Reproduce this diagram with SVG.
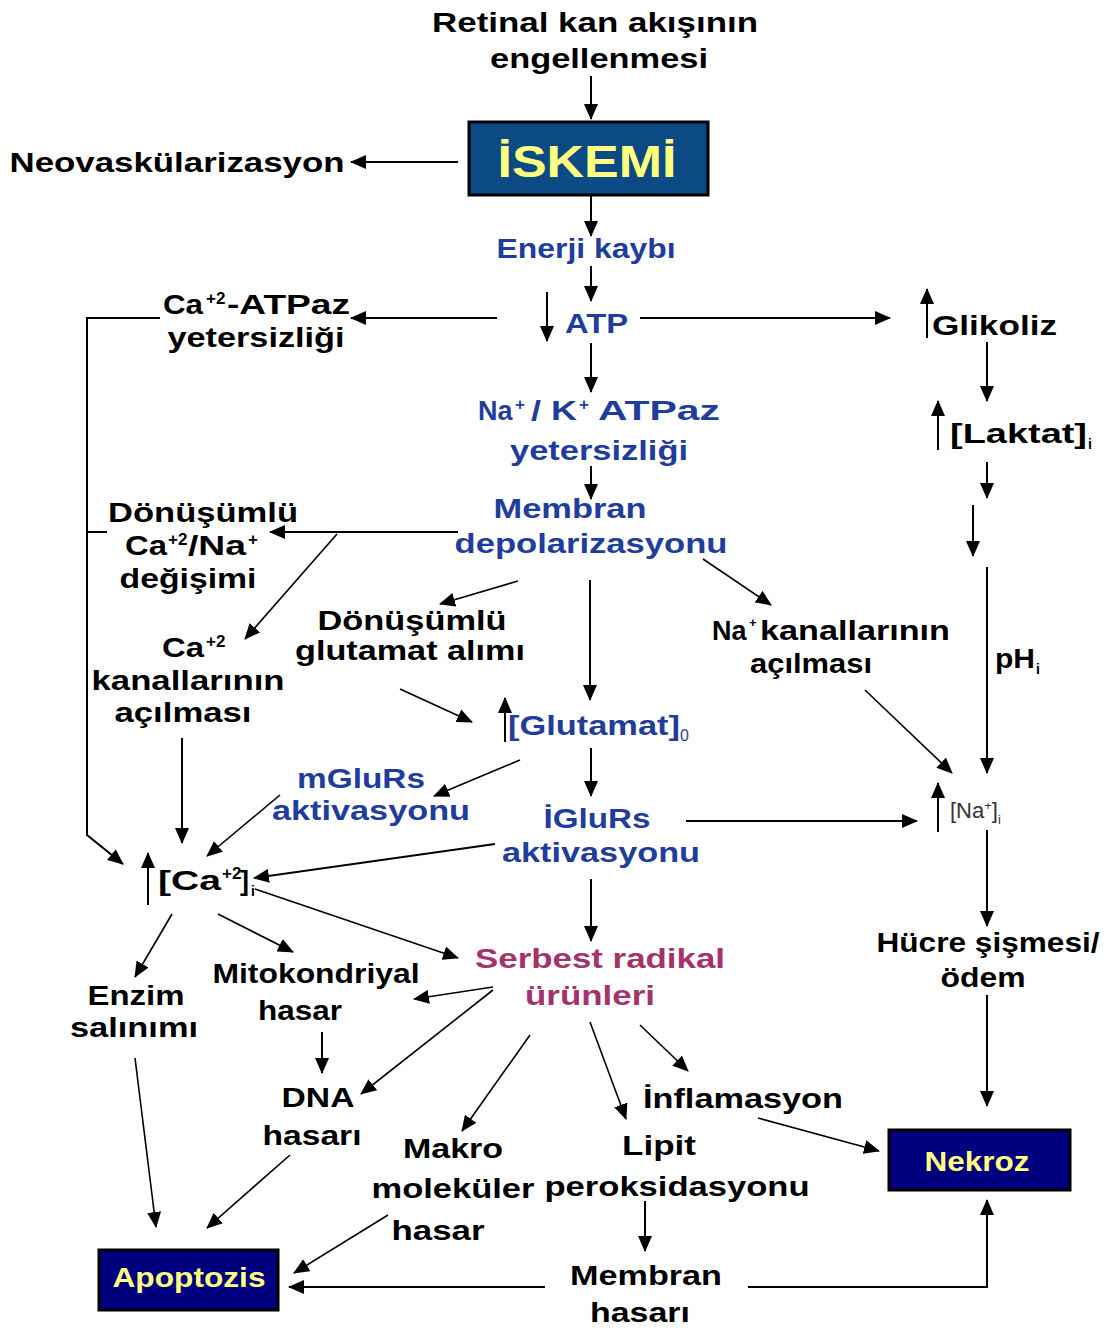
<svg xmlns="http://www.w3.org/2000/svg" width="1106" height="1330" viewBox="0 0 1106 1330">
<defs>
<style>
text{font-family:"Liberation Sans",Arial,sans-serif;font-weight:bold;font-size:27px;fill:#000}
.c{text-anchor:middle}
.b{fill:#1f3d9c}
.m{fill:#a3336a}
.y{fill:#ffff80}
.sup{font-size:17px}
.ln{stroke:#000;stroke-width:2;fill:none}
.th{stroke:#000;stroke-width:1.6;fill:none}
.box{stroke:#000;stroke-width:3}
</style>
<marker id="a" markerUnits="userSpaceOnUse" markerWidth="16" markerHeight="14" refX="15" refY="7" orient="auto">
<path d="M0,0 L16,7 L0,14 Z" fill="#000"/>
</marker>
</defs>
<rect width="1106" height="1330" fill="#fff"/>

<g id="connectors">
<line class="ln" x1="591" y1="76" x2="591" y2="119" marker-end="url(#a)"/>
<line class="ln" x1="458" y1="162" x2="351" y2="162" marker-end="url(#a)"/>
<line class="ln" x1="591" y1="196" x2="591" y2="236" marker-end="url(#a)"/>
<line class="ln" x1="591" y1="266" x2="591" y2="301" marker-end="url(#a)"/>
<line class="ln" x1="547" y1="292" x2="547" y2="341" marker-end="url(#a)"/>
<line class="ln" x1="497" y1="318" x2="351" y2="318" marker-end="url(#a)"/>
<polyline class="ln" points="160,318 87,318 87,835 123,864" marker-end="url(#a)"/>
<line class="ln" x1="640" y1="318" x2="890" y2="318" marker-end="url(#a)"/>
<line class="ln" x1="927" y1="338" x2="927" y2="289" marker-end="url(#a)"/>
<line class="ln" x1="591" y1="343" x2="591" y2="392" marker-end="url(#a)"/>
<line class="ln" x1="591" y1="466" x2="591" y2="499" marker-end="url(#a)"/>
<line class="ln" x1="458" y1="532" x2="270" y2="532" marker-end="url(#a)"/>
<line class="ln" x1="87" y1="532" x2="107" y2="532"/>
<line class="th" x1="337" y1="534" x2="245" y2="639" marker-end="url(#a)"/>
<line class="th" x1="518" y1="581" x2="440" y2="604" marker-end="url(#a)"/>
<line class="ln" x1="590" y1="580" x2="590" y2="700" marker-end="url(#a)"/>
<line class="th" x1="400" y1="689" x2="472" y2="722" marker-end="url(#a)"/>
<line class="th" x1="703" y1="559" x2="771" y2="605" marker-end="url(#a)"/>
<line class="th" x1="865" y1="690" x2="952" y2="773" marker-end="url(#a)"/>
<line class="ln" x1="505" y1="742" x2="505" y2="698" marker-end="url(#a)"/>
<line class="ln" x1="182" y1="738" x2="182" y2="843" marker-end="url(#a)"/>
<line class="th" x1="520" y1="760" x2="434" y2="796" marker-end="url(#a)"/>
<line class="th" x1="280" y1="795" x2="207" y2="856" marker-end="url(#a)"/>
<line class="ln" x1="591" y1="748" x2="591" y2="796" marker-end="url(#a)"/>
<line class="ln" x1="686" y1="821" x2="917" y2="821" marker-end="url(#a)"/>
<line class="ln" x1="938" y1="832" x2="938" y2="783" marker-end="url(#a)"/>
<line class="ln" x1="495" y1="844" x2="254" y2="878" marker-end="url(#a)"/>
<line class="ln" x1="148" y1="905" x2="148" y2="853" marker-end="url(#a)"/>
<line class="th" x1="255" y1="889" x2="458" y2="958" marker-end="url(#a)"/>
<line class="ln" x1="591" y1="879" x2="591" y2="941" marker-end="url(#a)"/>
<line class="th" x1="172" y1="914" x2="135" y2="977" marker-end="url(#a)"/>
<line class="th" x1="218" y1="914" x2="293" y2="952" marker-end="url(#a)"/>
<line class="th" x1="493" y1="987" x2="414" y2="999" marker-end="url(#a)"/>
<line class="ln" x1="322" y1="1032" x2="322" y2="1073" marker-end="url(#a)"/>
<line class="th" x1="493" y1="990" x2="361" y2="1094" marker-end="url(#a)"/>
<line class="th" x1="530" y1="1035" x2="462" y2="1131" marker-end="url(#a)"/>
<line class="th" x1="590" y1="1022" x2="626" y2="1119" marker-end="url(#a)"/>
<line class="th" x1="640" y1="1025" x2="688" y2="1071" marker-end="url(#a)"/>
<line class="th" x1="758" y1="1118" x2="879" y2="1151" marker-end="url(#a)"/>
<line class="ln" x1="645" y1="1201" x2="645" y2="1251" marker-end="url(#a)"/>
<line class="ln" x1="545" y1="1287" x2="289" y2="1287" marker-end="url(#a)"/>
<polyline class="ln" points="748,1287 987,1287 987,1200" marker-end="url(#a)"/>
<line class="th" x1="135" y1="1058" x2="156" y2="1227" marker-end="url(#a)"/>
<line class="th" x1="290" y1="1155" x2="207" y2="1228" marker-end="url(#a)"/>
<line class="th" x1="388" y1="1215" x2="294" y2="1273" marker-end="url(#a)"/>
<line class="ln" x1="987" y1="342" x2="987" y2="401" marker-end="url(#a)"/>
<line class="ln" x1="938" y1="450" x2="938" y2="401" marker-end="url(#a)"/>
<line class="ln" x1="987" y1="462" x2="987" y2="498" marker-end="url(#a)"/>
<line class="ln" x1="973" y1="505" x2="973" y2="556" marker-end="url(#a)"/>
<line class="ln" x1="987" y1="567" x2="987" y2="773" marker-end="url(#a)"/>
<line class="ln" x1="987" y1="830" x2="987" y2="926" marker-end="url(#a)"/>
<line class="ln" x1="987" y1="995" x2="987" y2="1106" marker-end="url(#a)"/>
</g>

<g id="retinal">
<text class="c" x="595" y="32" textLength="326" lengthAdjust="spacingAndGlyphs">Retinal kan akışının</text>
<text class="c" x="599" y="68" textLength="218" lengthAdjust="spacingAndGlyphs">engellenmesi</text>
</g>
<g id="iskemi">
<rect class="box" x="469" y="122" width="239" height="73" fill="#0b4a85"/>
<text class="c y" x="587" y="177" style="font-size:44px" textLength="179" lengthAdjust="spacingAndGlyphs">İSKEMİ</text>
</g>
<g id="neovaskularizasyon">
<text class="c" x="177" y="172" textLength="335" lengthAdjust="spacingAndGlyphs">Neovaskülarizasyon</text>
</g>
<g id="enerji">
<text class="c b" x="586" y="258" textLength="179" lengthAdjust="spacingAndGlyphs">Enerji kaybı</text>
</g>
<g id="atp">
<text class="b" x="565" y="333" textLength="63" lengthAdjust="spacingAndGlyphs">ATP</text>
</g>
<g id="ca-atpaz">
<text x="163" y="314" textLength="40" lengthAdjust="spacingAndGlyphs">Ca</text>
<text class="sup" x="206" y="304">+2</text>
<text x="227" y="314" textLength="123" lengthAdjust="spacingAndGlyphs">-ATPaz</text>
<text class="c" x="256" y="347" textLength="177" lengthAdjust="spacingAndGlyphs">yetersizliği</text>
</g>
<g id="glikoliz">
<text x="932" y="335" textLength="125" lengthAdjust="spacingAndGlyphs">Glikoliz</text>
</g>
<g id="na-k-atpaz">
<text class="b" x="478" y="420">Na</text>
<text class="b sup" x="515" y="410">+</text>
<text class="b" x="531" y="420" textLength="46" lengthAdjust="spacingAndGlyphs">/ K</text>
<text class="b sup" x="579" y="410">+</text>
<text class="b" x="598" y="420" textLength="122" lengthAdjust="spacingAndGlyphs">ATPaz</text>
<text class="c b" x="599" y="460" textLength="178" lengthAdjust="spacingAndGlyphs">yetersizliği</text>
</g>
<g id="laktat">
<text x="950" y="443" textLength="137" lengthAdjust="spacingAndGlyphs">[Laktat]</text>
<text x="1088" y="449" style="font-size:14px">i</text>
</g>
<g id="membran-depol">
<text class="c b" x="570" y="518" textLength="153" lengthAdjust="spacingAndGlyphs">Membran</text>
<text class="c b" x="591" y="553" textLength="273" lengthAdjust="spacingAndGlyphs">depolarizasyonu</text>
</g>
<g id="ca-na-degisimi">
<text class="c" x="203" y="522" textLength="190" lengthAdjust="spacingAndGlyphs">Dönüşümlü</text>
<text x="125" y="555" textLength="42" lengthAdjust="spacingAndGlyphs">Ca</text>
<text class="sup" x="168" y="545">+2</text>
<text x="188" y="555" textLength="58" lengthAdjust="spacingAndGlyphs">/Na</text>
<text class="sup" x="248" y="545">+</text>
<text class="c" x="188" y="588" textLength="137" lengthAdjust="spacingAndGlyphs">değişimi</text>
</g>
<g id="glutamat-alimi">
<text class="c" x="412" y="630" textLength="189" lengthAdjust="spacingAndGlyphs">Dönüşümlü</text>
<text class="c" x="410" y="660" textLength="230" lengthAdjust="spacingAndGlyphs">glutamat alımı</text>
</g>
<g id="na-kanallari">
<text x="712" y="640">Na</text>
<text x="749" y="627" style="font-size:13px">+</text>
<text x="760" y="640" textLength="190" lengthAdjust="spacingAndGlyphs">kanallarının</text>
<text class="c" x="811" y="673" textLength="122" lengthAdjust="spacingAndGlyphs">açılması</text>
</g>
<g id="ph">
<text x="995" y="668" textLength="40" lengthAdjust="spacingAndGlyphs">pH</text>
<text x="1036" y="674" style="font-size:14px">i</text>
</g>
<g id="ca-kanallari">
<text x="162" y="657" textLength="42" lengthAdjust="spacingAndGlyphs">Ca</text>
<text class="sup" x="206" y="647">+2</text>
<text class="c" x="188" y="690" textLength="193" lengthAdjust="spacingAndGlyphs">kanallarının</text>
<text class="c" x="183" y="722" textLength="137" lengthAdjust="spacingAndGlyphs">açılması</text>
</g>
<g id="glutamat">
<text class="b" x="508" y="735" textLength="172" lengthAdjust="spacingAndGlyphs">[Glutamat]</text>
<text class="b" x="680" y="741" style="font-size:16px;font-weight:normal">0</text>
</g>
<g id="mglurs">
<text class="c b" x="361" y="788" textLength="128" lengthAdjust="spacingAndGlyphs">mGluRs</text>
<text class="c b" x="371" y="820" textLength="198" lengthAdjust="spacingAndGlyphs">aktivasyonu</text>
</g>
<g id="iglurs">
<text class="c b" x="597" y="828" textLength="107" lengthAdjust="spacingAndGlyphs">İGluRs</text>
<text class="c b" x="601" y="862" textLength="198" lengthAdjust="spacingAndGlyphs">aktivasyonu</text>
</g>
<g id="na-i">
<text x="950" y="818" style="font-size:22px;font-weight:normal;fill:#333">[Na<tspan style="font-size:13px" dy="-8">+</tspan><tspan dy="8">]</tspan><tspan style="font-size:13px" dy="6">i</tspan></text>
</g>
<g id="ca-i">
<text x="158" y="890" textLength="63" lengthAdjust="spacingAndGlyphs">[Ca</text>
<text class="sup" x="222" y="879">+2</text>
<text x="240" y="890">]</text>
<text x="251" y="896" style="font-size:14px">i</text>
</g>
<g id="serbest-radikal">
<text class="c m" x="600" y="968" textLength="250" lengthAdjust="spacingAndGlyphs">Serbest radikal</text>
<text class="c m" x="590" y="1005" textLength="130" lengthAdjust="spacingAndGlyphs">ürünleri</text>
</g>
<g id="hucre-sismesi">
<text class="c" x="988" y="952" textLength="223" lengthAdjust="spacingAndGlyphs">Hücre şişmesi/</text>
<text class="c" x="983" y="987" textLength="85" lengthAdjust="spacingAndGlyphs">ödem</text>
</g>
<g id="enzim">
<text class="c" x="136" y="1005" textLength="97" lengthAdjust="spacingAndGlyphs">Enzim</text>
<text class="c" x="134" y="1037" textLength="128" lengthAdjust="spacingAndGlyphs">salınımı</text>
</g>
<g id="mitokondriyal">
<text class="c" x="316" y="983" textLength="207" lengthAdjust="spacingAndGlyphs">Mitokondriyal</text>
<text class="c" x="300" y="1020" textLength="84" lengthAdjust="spacingAndGlyphs">hasar</text>
</g>
<g id="dna">
<text class="c" x="318" y="1107" textLength="73" lengthAdjust="spacingAndGlyphs">DNA</text>
<text class="c" x="312" y="1145" textLength="99" lengthAdjust="spacingAndGlyphs">hasarı</text>
</g>
<g id="inflamasyon">
<text class="c" x="743" y="1108" textLength="200" lengthAdjust="spacingAndGlyphs">İnflamasyon</text>
</g>
<g id="makro">
<text class="c" x="453" y="1158" textLength="100" lengthAdjust="spacingAndGlyphs">Makro</text>
<text class="c" x="453" y="1198" textLength="163" lengthAdjust="spacingAndGlyphs">moleküler</text>
<text class="c" x="438" y="1240" textLength="93" lengthAdjust="spacingAndGlyphs">hasar</text>
</g>
<g id="lipit">
<text class="c" x="659" y="1155" textLength="74" lengthAdjust="spacingAndGlyphs">Lipit</text>
<text class="c" x="677" y="1196" textLength="265" lengthAdjust="spacingAndGlyphs">peroksidasyonu</text>
</g>
<g id="membran-hasari">
<text class="c" x="646" y="1285" textLength="152" lengthAdjust="spacingAndGlyphs">Membran</text>
<text class="c" x="640" y="1322" textLength="100" lengthAdjust="spacingAndGlyphs">hasarı</text>
</g>
<g id="nekroz">
<rect class="box" x="889" y="1130" width="181" height="60" fill="#00007e"/>
<text class="c y" x="977" y="1171" textLength="105" lengthAdjust="spacingAndGlyphs">Nekroz</text>
</g>
<g id="apoptozis">
<rect class="box" x="99" y="1250" width="179" height="60" fill="#00007e"/>
<text class="c y" x="189" y="1287" textLength="153" lengthAdjust="spacingAndGlyphs">Apoptozis</text>
</g>
</svg>
